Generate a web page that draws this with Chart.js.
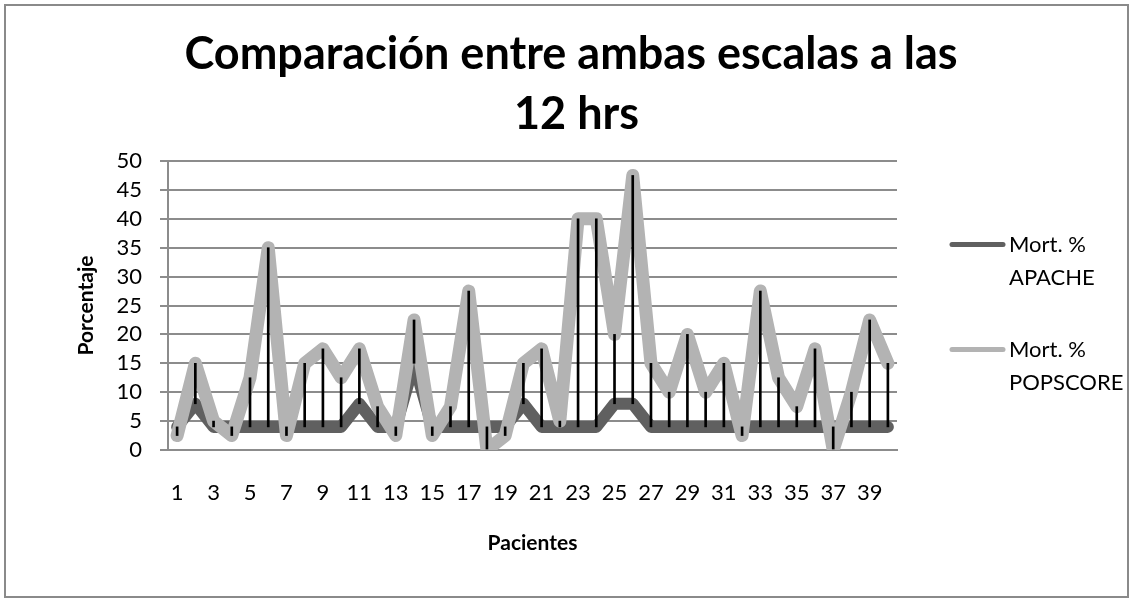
<!DOCTYPE html>
<html>
<head>
<meta charset="utf-8">
<script src="https://cdn.jsdelivr.net/npm/chart.js@4.4.1/dist/chart.umd.min.js"></script>
<style>
  html, body { margin: 0; padding: 0; background: #fff; }
  #wrap { width: 1133px; height: 601px; }
</style>
</head>
<body>
<div id="wrap"><canvas id="chart"></canvas></div>
<script>
const pacientes = ["1","2","3","4","5","6","7","8","9","10","11","12","13","14","15","16","17","18","19","20",
                   "21","22","23","24","25","26","27","28","29","30","31","32","33","34","35","36","37","38","39","40"];

const apache = [4, 8, 4, 4, 4, 4, 4, 4, 4, 4, 8, 4, 4, 15, 4, 4, 4, 4, 4, 8,
                4, 4, 4, 4, 8, 8, 4, 4, 4, 4, 4, 4, 4, 4, 4, 4, 4, 4, 4, 4];

const popscore = [2.5, 15, 5, 2.5, 12.5, 35, 2.5, 15, 17.5, 12.5, 17.5, 7.5, 2.5, 22.5, 2.5, 7.5, 27.5, 0, 2.5, 15,
                  17.5, 5, 40, 40, 20, 47.5, 15, 10, 20, 10, 15, 2.5, 27.5, 12.5, 7.5, 17.5, 0, 10, 22.5, 15];

const yTicks = [0, 5, 10, 15, 20, 25, 30, 35, 40, 45, 50];

const titleLines = ["Comparación entre ambas escalas a las ", "12 hrs"];
const seriesNames = [["Mort. %", "APACHE"], ["Mort. %", "POPSCORE"]];
const darkGray = "#606060";
const lightGray = "#b3b3b3";
const gridGray = "#8c8c8c";

// high-low lines between both series
const highLow = apache.map((a, i) => [a, popscore[i]]);

const frame = {
  id: "frame",
  beforeDraw(chart) {
    const ctx = chart.ctx;
    ctx.save();
    ctx.fillStyle = "#fff";
    ctx.fillRect(0, 0, chart.width, chart.height);
    ctx.strokeStyle = "#8a8a8a";
    ctx.lineWidth = 2;
    ctx.strokeRect(5, 5, chart.width - 10, chart.height - 9);
    ctx.restore();
  }
};

// title centred on the whole frame (the built-in one centres on the padded box)
const bigTitle = {
  id: "bigTitle",
  afterDraw(chart) {
    const ctx = chart.ctx;
    ctx.save();
    ctx.font = "bold 45px Lato";
    ctx.fillStyle = "#000";
    ctx.textAlign = "center";
    ctx.textBaseline = "middle";
    titleLines.forEach((t, k) => ctx.fillText(t, chart.width / 2 + 10, 54 + k * 60));
    ctx.restore();
  }
};

// legend to the right, with labels on two lines
const sideLegend = {
  id: "sideLegend",
  afterDraw(chart) {
    const ctx = chart.ctx;
    const area = chart.chartArea;
    const mid = (area.top + area.bottom) / 2;
    const rows = [
      { text: seriesNames[0], color: darkGray, y: mid - 61 },
      { text: seriesNames[1], color: lightGray, y: mid + 44 }
    ];
    ctx.save();
    ctx.font = "22px Lato";
    ctx.textBaseline = "middle";
    ctx.textAlign = "left";
    rows.forEach(r => {
      ctx.strokeStyle = r.color;
      ctx.lineWidth = 5;
      ctx.lineCap = "round";
      ctx.beginPath();
      ctx.moveTo(area.right + 55, r.y);
      ctx.lineTo(area.right + 106, r.y);
      ctx.stroke();
      ctx.fillStyle = "#000";
      r.text.forEach((t, k) => ctx.fillText(t, area.right + 112, r.y + k * 33));
    });
    ctx.restore();
  }
};

new Chart(document.getElementById("chart"), {
  type: "line",
  data: {
    labels: pacientes,
    datasets: [
      {
        type: "bar",
        label: "high-low",
        data: highLow,
        backgroundColor: "#000",
        borderWidth: 0,
        barThickness: 2,
        order: 0
      },
      {
        label: seriesNames[1].join(" "),
        data: popscore,
        borderColor: lightGray,
        backgroundColor: lightGray,
        borderWidth: 13,
        borderJoinStyle: "round",
        borderCapStyle: "round",
        pointRadius: 0,
        tension: 0,
        order: 1
      },
      {
        label: seriesNames[0].join(" "),
        data: apache,
        borderColor: darkGray,
        backgroundColor: darkGray,
        borderWidth: 12,
        borderJoinStyle: "round",
        borderCapStyle: "round",
        pointRadius: 0,
        tension: 0,
        order: 2
      }
    ]
  },
  options: {
    responsive: true,
    maintainAspectRatio: false,
    animation: false,
    layout: { padding: { left: 5, right: 236, top: 161, bottom: 5 } },
    plugins: {
      legend: { display: false },
      tooltip: { enabled: false },
      title: { display: false }
    },
    scales: {
      x: {
        offset: true,
        grid: { display: false, drawTicks: false },
        border: { display: true, color: gridGray, width: 2 },
        ticks: {
          autoSkip: false,
          maxRotation: 0,
          padding: 30,
          color: "#000",
          font: { family: "Lato", size: 22 },
          callback: function (v, i) { return i % 2 === 0 ? pacientes[i] : ""; }
        },
        title: {
          display: true,
          text: "Pacientes",
          color: "#000",
          font: { family: "Lato", size: 21, weight: "bold" },
          padding: { top: 0, bottom: 40 }
        },
        afterFit: s => { s.height = 146; }
      },
      y: {
        min: yTicks[0],
        max: yTicks[yTicks.length - 1],
        afterBuildTicks: s => { s.ticks = yTicks.map(v => ({ value: v })); },
        grid: { color: gridGray, lineWidth: 2, tickLength: 8 },
        border: { display: true, color: gridGray, width: 2 },
        ticks: {
          autoSkip: false,
          padding: 18,
          color: "#000",
          font: { family: "Lato", size: 22 }
        },
        title: {
          display: true,
          text: "Porcentaje",
          color: "#000",
          font: { family: "Lato", size: 21, weight: "bold" },
          padding: { top: 69, bottom: 0 }
        },
        afterFit: s => { s.width = 163; }
      }
    }
  },
  plugins: [frame, bigTitle, sideLegend]
});
</script>
</body>
</html>
